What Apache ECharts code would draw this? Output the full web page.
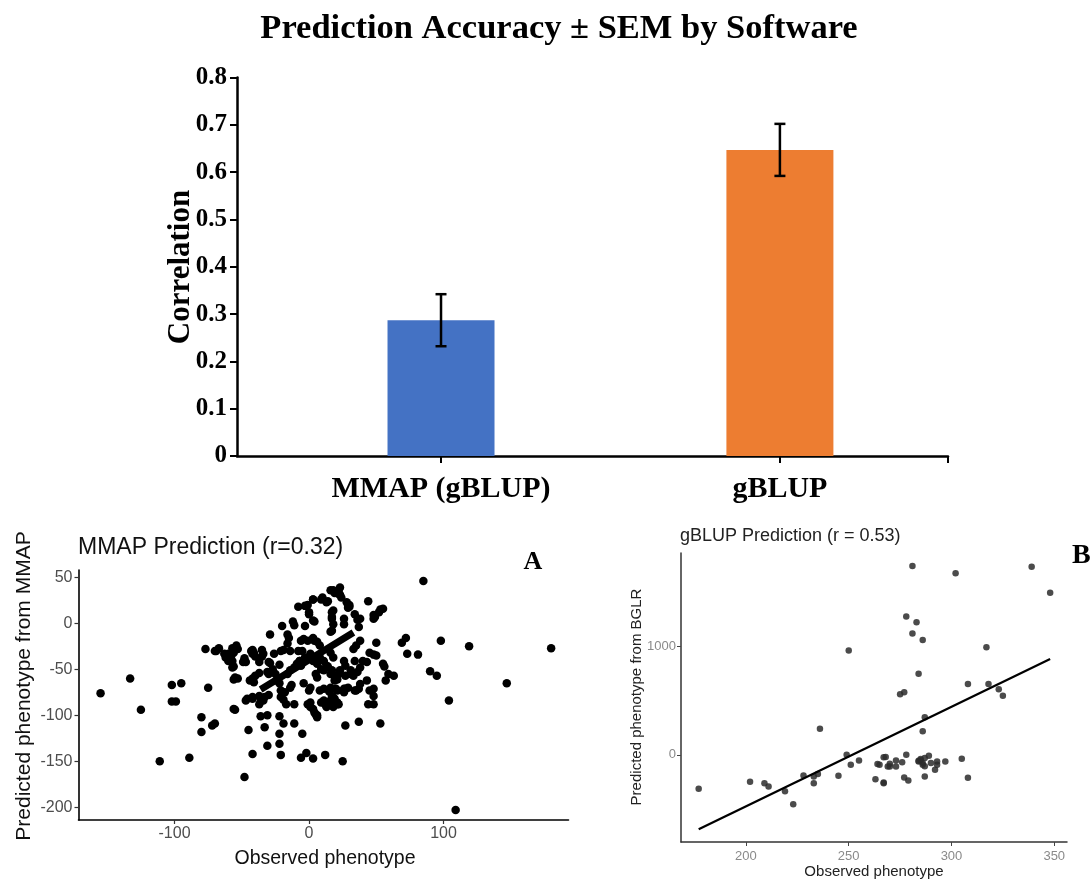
<!DOCTYPE html>
<html><head><meta charset="utf-8">
<script src="https://cdn.jsdelivr.net/npm/echarts@6/dist/echarts.min.js"></script>
<style>html,body{margin:0;padding:0;background:#fff}#c{width:1091px;height:880px}</style>
</head><body><div id="c"></div>
<script>
// ---- Bar chart data ----
const softwareCategories = ['MMAP (gBLUP)', 'gBLUP'];
const accuracyValues = [0.287, 0.647];
const accuracySEM = [0.055, 0.055];
const barColors = ['#4472C4', '#ED7D31'];

// ---- Panel A: MMAP prediction (observed, predicted) ----
const mmapPoints = [
[-155,-76],[-133,-60],[-125,-94],[-102,-67],[-95,-65],[-102,-85],[-99,-85],[-111,-150],[-89,-146],[-80,-102],[-80,-118],[-75,-70],[-77,-28],[-72,-111],[-70,-109],[-48,-167],[-45,-116],[-42,-142],[-55,-94],
[-69,-30],[-67,-27],[-70,-30],[-63,-33],[-62,-37],[-60,-41],[-58,-41],[-57,-27],[-56,-32],[-54,-24],[-53,-28],[-57,-48],[-56,-61],[-55,-59],[-56,-93],[-47,-42],[-43,-30],[-42,-33],[-44,-62],[-42,-60],[-47,-84],[-46,-82],[-42,-80],[-42,-82],[-37,-88],[-35,-29],[-35,-36],[-30,-42],[-36,-101],[-31,-100],[-33,-113],[-31,-133],[-22,-101],[-22,-120],[-21,-143],[-22,-131],[-19,-109],[-11,-109],[-5,-120],[-6,-146],[-2,-141],[3,-147],[12,-143],[25,-150],[27,-111],
[-60,-33],[-58,-36],[-57,-41],[-56,-47],[-53,-60],[-49,-42],[-48,-38],[-42,-29],[-41,-32],[-40,-36],[-37,-42],[-34,-33],[-29,-43],[-26,-33],[-40,-57],[-37,-54],[-41,-64],[-37,-79],[-36,-82],[-34,-84],[-33,-80],[-30,-78],
[-29,-12],[-20,-3],[-16,-12],[-15,-16],[-16,-22],[-12,2],[-11,-2],[-21,-30],[-19,-29],[-14,-30],[-8,18],[-1,20],[0,12],[3,26],[4,2],[-3,-3],[10,28],[14,24],[16,36],[19,33],[23,39],[22,34],[23,31],[30,20],[29,17],[34,10],[36,4],[18,14],[17,5],[18,-1],[16,-9],[26,5],[26,-1],[-6,-19],[-4,-17],[-1,-19],[3,-16],[4,-19],[6,-20],[8,-24],[-8,-30],[-5,-30],
[-31,-53],[-30,-55],[-24,-62],[-22,-65],[-21,-73],[-18,-75],[-14,-70],[-13,-67],[-21,-80],[-19,-83],[-17,-88],[-11,-88],[0,-73],[1,-70],[-1,-88],[1,-91],[4,-97],[6,-100],[-4,-65],[5,-55],[6,-59],[9,-50],[11,-51],[14,-47],[16,-55],[19,-62],[21,-61],[22,-55],[26,-73],[21,-73],[19,-82],[21,-86],[22,-88],[11,-84],[14,-87],[27,-57],[31,-51],[34,-41],[35,-73],[-11,-48],[-9,-44],[-7,-41],[-14,-51],[-16,-55],[-25,-55],[-27,-50],[-22,-45],
[85,46],[44,24],[29,20],[30,18],[48,9],[49,7],[53,15],[55,16],[52,12],[48,5],[69,-21],[72,-16],[73,-33],[81,-34],[98,-19],[119,-25],[180,-27],[90,-52],[95,-57],[147,-65],[104,-84],[109,-203],[44,-88],[48,-71],[48,-79],[53,-109],[37,-107],[50,-21],[45,-32],[48,-34],[50,-35],[55,-44],[56,-47],[57,-62],[59,-55],[63,-57],[38,5],[37,-4],[38,-19],[35,-24],[33,-28],[40,-41],[43,-42],[38,-48],[36,-53],[33,-57],[31,-55],[26,-71],[20,-71],[16,-70],[15,-74],[17,-79],[9,-86],[12,-88],[13,-91],[3,-93],[5,-99],[6,-102],[1,-86],[18,36],[22,32],[24,28],[28,23],[9,26],[13,23],[3,26],[17,12],[17,7],[17,-8],[-3,19],[0,10],[3,3],
[-7,-41],[-6,-46],[-3,-37],[1,-33],[3,-41],[6,-44],[8,-37],[11,-41],[13,-46],[17,-51],[19,-57],[23,-51],[26,-41],[27,-46],[18,-37],[16,-32],
[8,-73],[11,-71],[16,-84],[18,-81],[21,-88],[18,-91],[27,-71],[26,-75],[29,-70],[34,-73],[37,-71],[38,-66],[43,-62],[45,-73],[48,-88]
];
const mmapBand = [[-36,-72],[33,-10]];

// ---- Panel B: gBLUP prediction (observed, predicted) ----
const gblupPoints = [
[177,-314],[202,-249],[209,-262],[211,-292],[219,-338],[223,-458],[228,-191],[233,-200],[233,-262],[235,-178],[236,240],[245,-194],[249,0],[250,963],[251,-92],[255,-52],[263,-225],[265,-92],[267,-255],[267,-262],[267,-22],[269,-108],[270,-83],[273,-52],[273,-108],[276,-68],[275,560],[277,578],[277,-209],[279,-237],[278,1277],[278,0],[281,1745],[281,1120],[283,1225],[284,748],[284,-55],[285,-50],[286,-75],[286,-92],[287,-30],[287,-105],[286,218],[286,1062],[287,348],[287,-200],[289,-9],[290,-77],[292,-138],[293,-62],[293,-92],[297,-62],[302,1677],[305,-37],[308,-212],[308,655],[317,994],[318,655],[323,606],[325,545],[339,1738],[348,1498],[264,-86],[268,-21],[270,-108],[284,-62],[285,-40]
];
const gblupFitLine = [[177,-688],[348,886]];

// ---- Tick labels ----
const barYTicks = [0, 0.1, 0.2, 0.3, 0.4, 0.5, 0.6, 0.7, 0.8];
const mmapXTicks = [-100, 0, 100];
const mmapYTicks = [-200, -150, -100, -50, 0, 50];
const gblupXTicks = [200, 250, 300, 350];
const gblupYTicks = [0, 1000];

const serif = 'Liberation Serif';
const sans = 'Liberation Sans';
const chart = echarts.init(document.getElementById('c'), null, {renderer: 'canvas'});

const barXMin = -0.602, barXMax = 1.496;

chart.setOption({
  animation: false,
  backgroundColor: '#fff',
  grid: [
    {left: 237, top: 77.5, width: 711, height: 378.5, containLabel: false, outerBoundsMode: 'none'},
    {left: 78.5, top: 570, width: 490, height: 250, containLabel: false, outerBoundsMode: 'none'},
    {left: 681, top: 553, width: 386, height: 289, containLabel: false, outerBoundsMode: 'none'}
  ],
  xAxis: [
    {gridIndex: 0, type: 'value', min: barXMin, max: barXMax,
     axisLine: {show: true, onZero: false, lineStyle: {color: '#000', width: 2.5}},
     axisTick: {show: true, length: 7, customValues: [0, 1, barXMax], lineStyle: {color: '#000', width: 2}},
     axisLabel: {customValues: [0, 1], formatter: v => softwareCategories[Math.round(v)], fontFamily: serif, fontWeight: 'bold', fontSize: 30, color: '#000', margin: 18},
     splitLine: {show: false}},
    {gridIndex: 1, type: 'value', min: -171.4, max: 192.9,
     axisLine: {show: true, onZero: false, lineStyle: {color: '#000', width: 1.6}},
     axisTick: {show: true, length: 4, customValues: mmapXTicks, lineStyle: {color: '#333', width: 1.2}},
     axisLabel: {customValues: mmapXTicks, fontFamily: sans, fontSize: 16, color: '#4d4d4d', margin: 6},
     splitLine: {show: false}},
    {gridIndex: 2, type: 'value', min: 168.4, max: 356.2,
     axisLine: {show: true, onZero: false, lineStyle: {color: '#333', width: 1.5}},
     axisTick: {show: true, length: 4, customValues: gblupXTicks, lineStyle: {color: '#444', width: 1}},
     axisLabel: {customValues: gblupXTicks, fontFamily: sans, fontSize: 13, color: '#8a8a8a', margin: 8},
     splitLine: {show: false}}
  ],
  yAxis: [
    {gridIndex: 0, type: 'value', min: 0, max: 0.8, interval: 0.1,
     axisLine: {show: true, onZero: false, lineStyle: {color: '#000', width: 2.5}},
     axisTick: {show: true, length: 7, lineStyle: {color: '#000', width: 2}},
     axisLabel: {formatter: v => (v === 0 ? '0' : v.toFixed(1)), fontFamily: serif, fontWeight: 'bold', fontSize: 25, color: '#000', margin: 10},
     splitLine: {show: false}},
    {gridIndex: 1, type: 'value', min: -213.8, max: 58,
     axisLine: {show: true, onZero: false, lineStyle: {color: '#000', width: 1.6}},
     axisTick: {show: true, length: 4, customValues: mmapYTicks, lineStyle: {color: '#333', width: 1.2}},
     axisLabel: {customValues: mmapYTicks, fontFamily: sans, fontSize: 16, color: '#4d4d4d', margin: 6},
     splitLine: {show: false}},
    {gridIndex: 2, type: 'value', min: -806, max: 1865,
     axisLine: {show: true, onZero: false, lineStyle: {color: '#333', width: 1.5}},
     axisTick: {show: true, length: 4, customValues: gblupYTicks, lineStyle: {color: '#444', width: 1}},
     axisLabel: {customValues: gblupYTicks, formatter: v => String(v), fontFamily: sans, fontSize: 13, color: '#8a8a8a', margin: 5},
     splitLine: {show: false}}
  ],
  series: [
    {type: 'bar', xAxisIndex: 0, yAxisIndex: 0, barWidth: 107,
     data: softwareCategories.map((c, i) => ({value: [i, accuracyValues[i]], itemStyle: {color: barColors[i]}}))},
    {type: 'custom', xAxisIndex: 0, yAxisIndex: 0, z: 5,
     encode: {x: 0, y: [1, 2]},
     data: softwareCategories.map((c, i) => [i, accuracyValues[i] - accuracySEM[i], accuracyValues[i] + accuracySEM[i]]),
     renderItem: (params, api) => {
       const x = api.value(0);
       const lo = api.coord([x, api.value(1)]);
       const hi = api.coord([x, api.value(2)]);
       const h = 5.5;
       const st = {stroke: '#000', lineWidth: 2.5};
       return {type: 'group', children: [
         {type: 'line', shape: {x1: lo[0], y1: lo[1], x2: hi[0], y2: hi[1]}, style: st},
         {type: 'line', shape: {x1: lo[0] - h, y1: lo[1], x2: lo[0] + h, y2: lo[1]}, style: st},
         {type: 'line', shape: {x1: hi[0] - h, y1: hi[1], x2: hi[0] + h, y2: hi[1]}, style: st}
       ]};
     }},
    {type: 'line', xAxisIndex: 1, yAxisIndex: 1, data: mmapBand, symbol: 'none',
     lineStyle: {color: '#000', width: 7}, z: 3},
    {type: 'scatter', xAxisIndex: 1, yAxisIndex: 1, data: mmapPoints, symbolSize: 8.5,
     itemStyle: {color: '#000', opacity: 1}, z: 4},
    {type: 'scatter', xAxisIndex: 2, yAxisIndex: 2, data: gblupPoints, symbolSize: 6.5,
     itemStyle: {color: '#2b2b2b', opacity: 0.85}, z: 4},
    {type: 'line', xAxisIndex: 2, yAxisIndex: 2, data: gblupFitLine, symbol: 'none',
     lineStyle: {color: '#000', width: 2.3}, z: 5}
  ],
  graphic: [
    {type: 'text', x: 559, y: 29, style: {text: 'Prediction Accuracy ± SEM by Software', font: 'bold 34.5px "Liberation Serif"', fill: '#000', align: 'center', verticalAlign: 'middle'}},
    {type: 'text', x: 181, y: 267, rotation: Math.PI / 2, style: {text: 'Correlation', font: 'bold 31px "Liberation Serif"', fill: '#000', align: 'center', verticalAlign: 'middle'}},
    {type: 'text', x: 78, y: 548, style: {text: 'MMAP Prediction (r=0.32)', font: '23px "Liberation Sans"', fill: '#111', align: 'left', verticalAlign: 'middle'}},
    {type: 'text', x: 24, y: 686, rotation: Math.PI / 2, style: {text: 'Predicted phenotype from MMAP', font: '21px "Liberation Sans"', fill: '#111', align: 'center', verticalAlign: 'middle'}},
    {type: 'text', x: 325, y: 859, style: {text: 'Observed phenotype', font: '19.5px "Liberation Sans"', fill: '#111', align: 'center', verticalAlign: 'middle'}},
    {type: 'text', x: 533, y: 562, style: {text: 'A', font: 'bold 26px "Liberation Serif"', fill: '#000', align: 'center', verticalAlign: 'middle'}},
    {type: 'text', x: 680, y: 536, style: {text: 'gBLUP Prediction (r = 0.53)', font: '18px "Liberation Sans"', fill: '#222', align: 'left', verticalAlign: 'middle'}},
    {type: 'text', x: 637, y: 697, rotation: Math.PI / 2, style: {text: 'Predicted phenotype from BGLR', font: '15px "Liberation Sans"', fill: '#222', align: 'center', verticalAlign: 'middle'}},
    {type: 'text', x: 874, y: 872, style: {text: 'Observed phenotype', font: '15px "Liberation Sans"', fill: '#222', align: 'center', verticalAlign: 'middle'}},
    {type: 'text', x: 1072, y: 556, style: {text: 'B', font: 'bold 28px "Liberation Serif"', fill: '#000', align: 'left', verticalAlign: 'middle'}}
  ]
});
</script>
</body></html>
